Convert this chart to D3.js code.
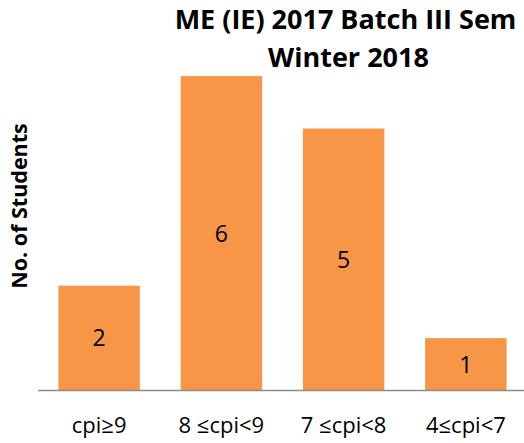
<!DOCTYPE html>
<html>
<head>
<meta charset="utf-8">
<script src="https://cdn.jsdelivr.net/npm/d3@7"></script>
<style>
	body { margin: 0; background: #fff; }
	text { font-family: "Open Sans", Lato, sans-serif; fill: #000; }
</style>
</head>
<body>
<div id="chart"></div>
<script>
/* global d3 */
var categories = ["cpi\u22659", "8 \u2264cpi<9", "7 \u2264cpi<8", "4\u2264cpi<7"],
	students = [2, 6, 5, 1],
	titleLines = ["ME (IE) 2017 Batch III Sem", "Winter 2018"],
	yLabel = "No. of Students";

(function() {
	'use strict';

	var width = 524,
		height = 443,
		baseY = 390.5,
		topY = 23.7,
		barColor = "#F79646",
		svg = d3.select("#chart").append("svg")
			.attr("width", width)
			.attr("height", height);

	var x = d3.scaleBand()
			.domain(categories)
			.range([38, 527])
			.paddingInner(0.334)
			.paddingOuter(0.167),
		y = d3.scaleLinear()
			.domain([0, 7])
			.range([baseY, topY]);

	// bars
	svg.append("g")
		.selectAll("rect")
		.data(students)
		.join("rect")
		.attr("x", function(d, i) { return x(categories[i]); })
		.attr("y", function(d) { return y(d); })
		.attr("width", x.bandwidth())
		.attr("height", function(d) { return y(0) - y(d); })
		.attr("fill", barColor);

	// value labels in the middle of each bar
	svg.append("g")
		.selectAll("text")
		.data(students)
		.join("text")
		.attr("x", function(d, i) { return x(categories[i]) + x.bandwidth() / 2; })
		.attr("y", function(d) { return (y(d) + y(0)) / 2; })
		.attr("dy", "0.36em")
		.attr("text-anchor", "middle")
		.style("font-size", "23px")
		.text(function(d) { return d; });

	// x axis: baseline only, labels below
	var xAxis = svg.append("g")
		.attr("transform", "translate(0," + baseY + ")")
		.call(d3.axisBottom(x).tickSize(0).tickPadding(27));
	xAxis.select(".domain")
		.attr("d", "M38,0H524")
		.attr("stroke", "#8c8c8c")
		.attr("stroke-width", 1.5);
	xAxis.selectAll("text")
		.style("font-family", "'Open Sans', Lato, sans-serif")
		.style("font-size", "22px")
		.attr("fill", "#000");

	// y axis title
	svg.append("text")
		.attr("transform", "translate(27,206) rotate(-90)")
		.attr("text-anchor", "middle")
		.style("font-size", "21.5px")
		.style("font-weight", "bold")
		.text(yLabel);

	// chart title, two lines
	svg.append("text")
		.attr("x", 345.5)
		.attr("y", 28.5)
		.attr("text-anchor", "middle")
		.style("font-size", "27px")
		.style("font-weight", "bold")
		.text(titleLines[0]);
	svg.append("text")
		.attr("x", 348.5)
		.attr("y", 67)
		.attr("text-anchor", "middle")
		.style("font-size", "27px")
		.style("font-weight", "bold")
		.text(titleLines[1]);
})();
</script>
</body>
</html>
